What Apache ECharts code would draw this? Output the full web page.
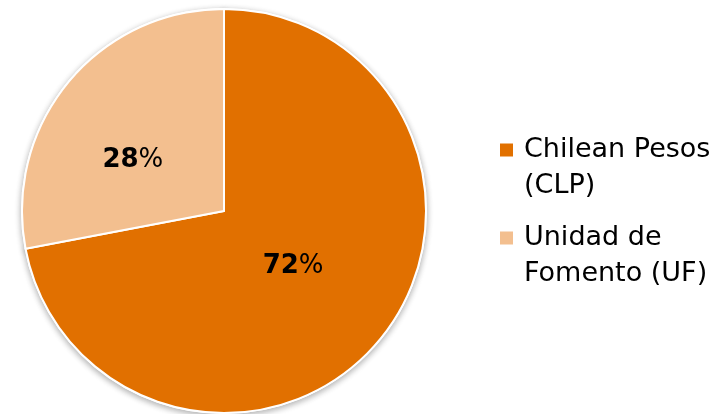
<!DOCTYPE html>
<html>
<head>
<meta charset="utf-8">
<style>
  html, body { margin: 0; padding: 0; background: #ffffff; }
  #chart { width: 725px; height: 414px; }
</style>
<script src="https://cdn.jsdelivr.net/npm/echarts@6/dist/echarts.min.js"></script>
</head>
<body>
<div id="chart"></div>
<script>
// Currency composition of the portfolio
const categories = ['Chilean Pesos\n(CLP)', 'Unidad de\nFomento (UF)'];
const shares = [72, 28];
const sliceColors = ['#E17000', '#F3BF8F'];
const labelShift = [[-11, -11], [-11, 16]];

const pieData = categories.map((name, i) => ({
  name: name,
  value: shares[i],
  itemStyle: { color: sliceColors[i] }
}));

const chart = echarts.init(document.getElementById('chart'), null, { renderer: 'canvas' });

const pieGeom = {
  type: 'pie',
  center: [224, 211],
  radius: 202,
  startAngle: 90,
  clockwise: true,
  animation: false
};

chart.setOption({
  backgroundColor: '#ffffff',
  legend: {
    orient: 'vertical',
    left: 498,
    top: 96,
    padding: 0,
    itemWidth: 15,
    itemHeight: 15,
    itemGap: -20,
    icon: 'rect',
    selectedMode: false,
    data: categories,
    // a leading empty line keeps the swatch level with the first text line
    formatter: name => '\n' + name,
    textStyle: {
      fontFamily: 'DejaVu Sans',
      fontSize: 27,
      lineHeight: 36,
      color: '#000000',
      padding: [0, 0, 0, 5]
    }
  },
  series: [
    // soft drop shadow beneath the pie
    Object.assign({}, pieGeom, {
      silent: true,
      data: pieData,
      label: { show: false },
      labelLine: { show: false },
      itemStyle: {
        borderColor: '#ffffff',
        borderWidth: 2,
        shadowBlur: 6,
        shadowColor: 'rgba(0,0,0,0.3)',
        shadowOffsetY: 2
      }
    }),
    Object.assign({}, pieGeom, {
      data: pieData,
      itemStyle: { borderColor: '#ffffff', borderWidth: 2 },
      label: {
        show: true,
        position: 'inside',
        formatter: p => '{n|' + p.value + '}{p|%}',
        rich: {
          n: { fontFamily: 'DejaVu Sans', fontWeight: 'bold', fontSize: 26, color: '#000000' },
          p: { fontFamily: 'DejaVu Sans', fontSize: 26, color: '#000000' }
        }
      },
      labelLayout: p => ({ dx: labelShift[p.dataIndex][0], dy: labelShift[p.dataIndex][1] }),
      emphasis: { disabled: true }
    })
  ]
});
</script>
</body>
</html>
